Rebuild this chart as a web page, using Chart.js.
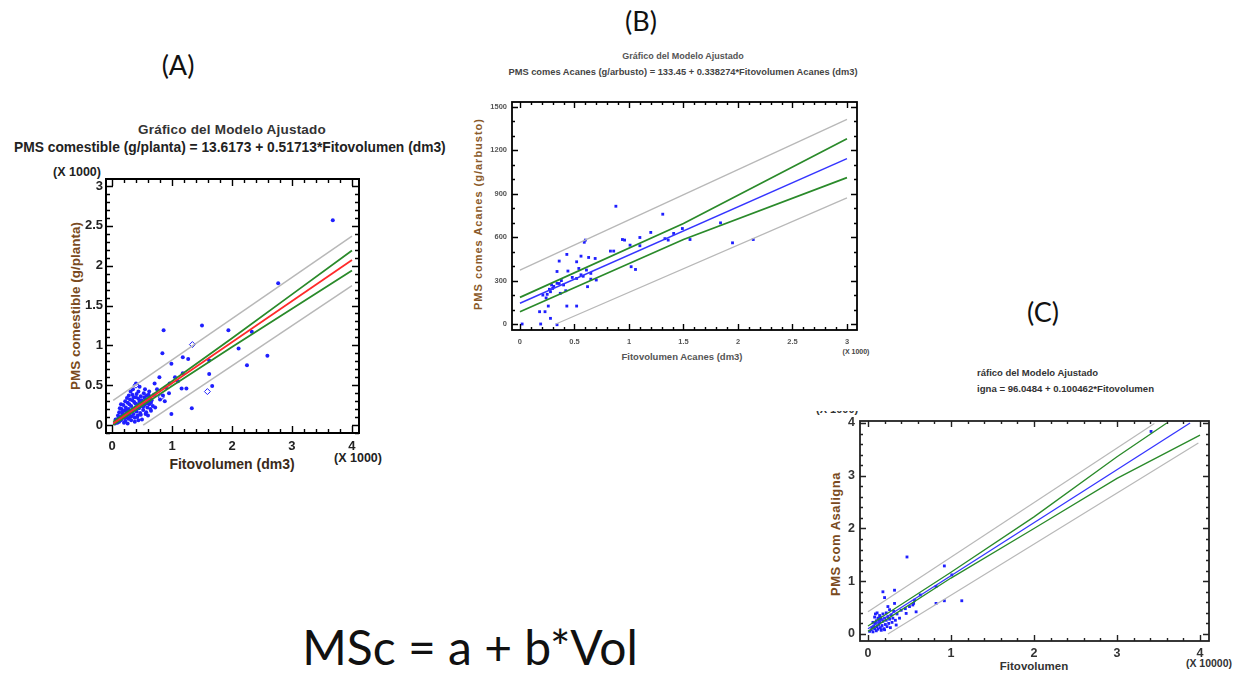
<!DOCTYPE html>
<html><head><meta charset="utf-8">
<script src="https://cdn.jsdelivr.net/npm/chart.js@4.4.1/dist/chart.umd.min.js"></script>
<style>
html,body{margin:0;padding:0;background:#fff;width:1233px;height:674px;overflow:hidden;position:relative;font-family:"Liberation Sans",Arial,sans-serif;}
.t{position:absolute;white-space:nowrap;line-height:1;font-weight:bold;}
.c{transform:translate(-50%,-50%);}
.l{transform:translate(0,-50%);}
.r{transform:translate(-50%,-50%) rotate(-90deg);}
canvas{position:absolute;}
.panel{position:absolute;white-space:nowrap;line-height:1;font-family:Lato,"Open Sans",sans-serif;color:#111;transform:translate(-50%,-50%);}
.clipA{position:absolute;left:0;top:138px;width:446px;height:20px;overflow:hidden;}
.clipC{position:absolute;left:812px;top:411px;width:48px;height:5px;overflow:hidden;}
</style></head><body>

<div class="panel" style="left:178px;top:64px;font-size:27px;">(A)</div>
<div class="panel" style="left:641px;top:20px;font-size:27px;">(B)</div>
<div class="panel" style="left:1043px;top:311px;font-size:27px;">(C)</div>
<div class="panel" style="left:470px;top:647px;font-size:48px;">MSc = a + b*Vol</div>

<!-- Chart A texts -->
<div class="t c" style="left:232px;top:130px;font-size:13.5px;color:#333;letter-spacing:0.2px;">Gráfico del Modelo Ajustado</div>
<div class="clipA"><div class="t" style="left:14px;top:3px;font-size:13.8px;color:#222;">PMS comestible (g/planta) = 13.6173 + 0.51713*Fitovolumen (dm3)</div></div>
<div class="t c" style="left:77px;top:172px;font-size:12.5px;color:#222;">(X 1000)</div>
<div class="t r" style="left:76px;top:306px;font-size:13.5px;color:#7a4a20;">PMS comestible (g/planta)</div>
<div class="t c" style="left:232px;top:464px;font-size:14px;color:#3a2a1a;">Fitovolumen (dm3)</div>
<div class="t c" style="left:358px;top:458px;font-size:12.5px;color:#222;">(X 1000)</div>

<!-- Chart B texts -->
<div class="t c" style="left:683px;top:56px;font-size:9px;color:#555;">Gráfico del Modelo Ajustado</div>
<div class="t c" style="left:683px;top:73px;font-size:9.3px;color:#444;">PMS comes Acanes (g/arbusto) = 133.45 + 0.338274*Fitovolumen Acanes (dm3)</div>
<div class="t r" style="left:478px;top:214px;font-size:11px;color:#8a5a2a;letter-spacing:1px;">PMS comes Acanes (g/arbusto)</div>
<div class="t c" style="left:682px;top:357px;font-size:9.5px;color:#555;">Fitovolumen Acanes (dm3)</div>
<div class="t c" style="left:856px;top:351px;font-size:7px;color:#444;">(X 1000)</div>

<!-- Chart C texts -->
<div class="t l" style="left:977px;top:373px;font-size:9.5px;color:#333;">ráfico del Modelo Ajustado</div>
<div class="t l" style="left:977px;top:389px;font-size:9.6px;color:#333;">igna = 96.0484 + 0.100462*Fitovolumen</div>
<div class="clipC"><div class="t" style="left:4px;top:-7px;font-size:11px;color:#333;">(X 1000)</div></div>
<div class="t r" style="left:835px;top:534px;font-size:13px;color:#7a4a20;letter-spacing:0.5px;">PMS com Asaligna</div>
<div class="t c" style="left:1034px;top:667px;font-size:11.5px;color:#333;">Fitovolumen</div>
<div class="t c" style="left:1209px;top:663px;font-size:10.5px;color:#333;">(X 10000)</div>

<canvas id="cA"></canvas>
<canvas id="cB"></canvas>
<canvas id="cC"></canvas>

<script>
// ---------------- DATA ----------------
// Chart A : PMS comestible vs Fitovolumen (x1000)
const A_xTicks = [0, 1, 2, 3, 4];
const A_yTicks = [0, 0.5, 1, 1.5, 2, 2.5, 3];
const A_pointsX = [3.68,2.77,1.50,0.86,1.94,2.33,0.84,2.11,2.59,2.25,1.18,1.27,0.99,1.62,1.62,1.67,1.33,0.99,0.79,1.18,1.24,1.16,0.96,0.71,0.85,0.40,0.46,1.05,0.90,0.95,1.10,0.75,0.62,0.55,0.88,0.72,0.65,0.60,0.80,
  0.05,0.08,0.10,0.12,0.14,0.15,0.17,0.18,0.20,0.21,0.22,0.23,0.24,0.25,0.26,0.27,0.28,0.29,0.30,0.31,0.32,0.33,0.34,0.35,0.36,0.37,0.38,0.39,0.40,0.41,0.42,0.43,0.44,0.45,0.46,0.47,0.48,0.49,0.50,0.51,0.52,0.53,0.54,0.55,0.56,0.57,0.58,0.59,0.60,0.62,0.63,0.64,0.66,0.68,0.70,
  0.12,0.16,0.19,0.22,0.25,0.28,0.31,0.35,0.20,0.26,0.32,0.38,0.44,0.18,0.24,0.29,0.34,0.39,0.44,0.49,0.54,0.10,0.13,0.06,0.09,0.15,0.21,0.27,0.33,0.36,0.41,0.47,0.52,0.57,0.61,0.65,0.30,0.42,0.48];
const A_pointsY = [2.57,1.78,1.25,1.19,1.19,1.17,0.90,0.96,0.87,0.75,0.85,0.83,0.77,0.81,0.64,0.49,0.21,0.14,0.60,0.65,0.46,0.46,0.52,0.52,0.37,0.52,0.48,0.60,0.47,0.40,0.55,0.45,0.42,0.45,0.30,0.22,0.18,0.12,0.32,
  0.02,0.05,0.08,0.04,0.10,0.06,0.14,0.09,0.12,0.18,0.05,0.22,0.10,0.15,0.28,0.08,0.20,0.13,0.32,0.17,0.24,0.11,0.38,0.20,0.14,0.29,0.09,0.22,0.35,0.17,0.26,0.12,0.42,0.21,0.30,0.15,0.36,0.24,0.07,0.28,0.19,0.40,0.25,0.33,0.14,0.27,0.37,0.22,0.30,0.26,0.34,0.20,0.31,0.24,0.38,
  0.16,0.20,0.25,0.30,0.34,0.37,0.42,0.45,0.03,0.02,0.06,0.04,0.06,0.17,0.19,0.26,0.31,0.27,0.33,0.31,0.35,0.12,0.21,0.07,0.03,0.26,0.09,0.14,0.18,0.35,0.39,0.28,0.23,0.16,0.38,0.28,0.10,0.10,0.13];
const A_openX = [1.34, 1.59, 0.40, 0.82];
const A_openY = [1.01, 0.42, 0.50, 0.35];
const A_fitX = [0.02, 4];            const A_fitY = [0.02, 2.07];
const A_confUpX = [0.02, 1, 2, 3, 4]; const A_confUpY = [0.04, 0.55, 1.09, 1.64, 2.19];
const A_confLoX = [0.02, 1, 2, 3, 4]; const A_confLoY = [0.00, 0.49, 0.98, 1.46, 1.94];
const A_predUpX = [0.02, 4];          const A_predUpY = [0.31, 2.37];
const A_predLoX = [0.52, 4];          const A_predLoY = [0.0, 1.75];

// Chart B : PMS comes Acanes (g/arbusto) vs Fitovolumen Acanes (x1000 dm3)
const B_xTicks = [0, 0.5, 1, 1.5, 2, 2.5, 3];
const B_yTicks = [0, 300, 600, 900, 1200, 1500];
const B_pointsX = [0.88,1.31,1.20,1.10,0.94,0.96,1.01,1.10,0.83,0.86,0.60,0.59,0.43,0.56,0.52,0.63,0.69,0.36,0.34,0.44,0.54,0.61,0.65,1.02,1.06,0.62,0.52,0.48,0.70,0.37,0.30,0.28,0.25,0.21,0.34,0.26,0.43,0.52,0.18,0.23,0.28,0.19,0.34,0.02,1.41,1.36,1.49,1.56,1.84,1.95,2.14,1.33,0.40,0.31,0.27,0.38,0.58,0.65,0.56,0.24,0.36,0.42,0.29];
const B_pointsY = [814,759,633,598,584,580,545,541,504,504,580,565,481,469,430,460,453,435,363,366,384,373,350,396,377,258,315,322,304,212,246,223,205,200,281,124,124,124,85,85,39,0,-5,0,626,580,660,584,699,561,584,590,270,260,240,300,330,310,340,180,280,230,270];
const B_fitX = [0, 3];            const B_fitY = [143, 1143];
const B_confUpX = [0, 1.5, 3];    const B_confUpY = [184, 695, 1281];
const B_confLoX = [0, 1.5, 3];    const B_confLoY = [85, 584, 1012];
const B_predUpX = [0, 3];         const B_predUpY = [373, 1415];
const B_predLoX = [0.33, 3];      const B_predLoY = [0, 872];

// Chart C : PMS com Asaligna (x1000) vs Fitovolumen (x10000)
const C_xTicks = [0, 1, 2, 3, 4];
const C_yTicks = [0, 1, 2, 3, 4];
const C_pointsX = [3.41,0.47,0.92,1.01,0.82,1.13,0.92,0.82,0.32,0.18,0.20,0.63,0.54,0.56,0.32,0.24,0.46,0.38,0.34,0.58,0.55,0.50,0.45,0.40,
  0.02,0.04,0.05,0.06,0.07,0.08,0.09,0.10,0.10,0.11,0.12,0.12,0.13,0.14,0.14,0.15,0.16,0.17,0.18,0.18,0.19,0.20,0.21,0.22,0.23,0.24,0.25,0.26,0.27,0.28,0.08,0.09,0.11,0.13,0.15,0.06,0.16,0.20,0.22,0.30,0.33,0.35,0.29,0.31,0.26];
const C_pointsY = [3.84,1.46,1.29,1.12,0.90,0.63,0.63,0.58,0.83,0.80,0.69,0.74,0.55,0.64,0.58,0.52,0.39,0.30,0.17,0.42,0.58,0.52,0.48,0.45,
  0.05,0.08,0.12,0.04,0.15,0.10,0.20,0.06,0.25,0.14,0.30,0.09,0.18,0.35,0.22,0.12,0.28,0.16,0.38,0.24,0.10,0.30,0.18,0.26,0.14,0.33,0.20,0.28,0.12,0.36,0.32,0.38,0.40,0.27,0.32,0.22,0.07,0.08,0.40,0.30,0.26,0.38,0.22,0.43,0.46];
const C_fitX = [0, 3.88];                    const C_fitY = [0.10, 4.00];
const C_confUpX = [0, 1, 2, 3, 3.6];         const C_confUpY = [0.15, 1.17, 2.22, 3.36, 4.00];
const C_confLoX = [0, 1, 2, 3, 4];           const C_confLoY = [0.05, 1.06, 2.00, 2.95, 3.77];
const C_predUpX = [0, 3.45];                 const C_predUpY = [0.42, 3.99];
const C_predLoX = [0.24, 3.98];              const C_predLoY = [0.0, 3.62];

// ---------------- RENDER ----------------
const zip = (xs, ys) => xs.map((x, i) => ({x, y: ys[i]}));

const boxTicks = {
  id: 'boxTicks',
  afterDatasetsDraw(chart, args, o) {
    const {ctx, chartArea: a, scales: {x, y}} = chart;
    ctx.save();
    ctx.strokeStyle = o.color;
    ctx.lineWidth = 1.4;
    const axis = (scale, step, n, horiz) => {
      const ms = step / n;
      const k0 = Math.ceil(scale.min / ms - 1e-9), k1 = Math.floor(scale.max / ms + 1e-9);
      for (let k = k0; k <= k1; k++) {
        const v = k * ms;
        const major = (k % n) === 0;
        const len = major ? o.major : o.minor;
        const p = Math.round(scale.getPixelForValue(v)) + 0.5;
        ctx.beginPath();
        if (horiz) {
          ctx.moveTo(p, a.bottom); ctx.lineTo(p, a.bottom - len);
          ctx.moveTo(p, a.top); ctx.lineTo(p, a.top + len);
        } else {
          ctx.moveTo(a.left, p); ctx.lineTo(a.left + len, p);
          ctx.moveTo(a.right, p); ctx.lineTo(a.right - len, p);
        }
        ctx.stroke();
      }
    };
    axis(x, o.xStep, o.xMinor, true);
    axis(y, o.yStep, o.yMinor, false);
    ctx.lineWidth = o.lw;
    ctx.strokeRect(a.left, a.top, a.right - a.left, a.bottom - a.top);
    ctx.restore();
  }
};

function lineDs(xs, ys, color, w) {
  return {data: zip(xs, ys), showLine: true, borderColor: color, borderWidth: w, pointRadius: 0, fill: false, tension: 0};
}

function makeChart(id, cfg) {
  const yw = 40, xh = 30, pt = 10, pr = 22;
  const cv = document.getElementById(id);
  const W = yw + (cfg.box.R - cfg.box.L) + pr;
  const H = pt + (cfg.box.B - cfg.box.T) + xh;
  cv.width = W; cv.height = H;
  cv.style.left = (cfg.box.L - yw) + 'px';
  cv.style.top = (cfg.box.T - pt) + 'px';
  cv.style.width = W + 'px'; cv.style.height = H + 'px';
  const tickFont = cfg.tickFont;
  return new Chart(cv, {
    type: 'scatter',
    data: {datasets: cfg.datasets},
    options: {
      responsive: false, animation: false, devicePixelRatio: 1,
      layout: {padding: {top: pt, right: pr, left: 0, bottom: 0}},
      plugins: {legend: {display: false}, tooltip: {enabled: false}, boxTicks: cfg.ticks},
      scales: {
        x: {
          type: 'linear', min: cfg.xMin, max: cfg.xMax,
          grid: {display: false, drawTicks: false}, border: {display: false},
          afterBuildTicks: s => { s.ticks = cfg.xTicks.map(v => ({value: v})); },
          afterFit: s => { s.height = xh; s.paddingLeft = 0; s.paddingRight = 0; },
          ticks: {padding: cfg.xPad, font: tickFont, color: cfg.tickColor, maxRotation: 0, autoSkip: false, callback: v => String(v)}
        },
        y: {
          type: 'linear', min: cfg.yMin, max: cfg.yMax,
          grid: {display: false, drawTicks: false}, border: {display: false},
          afterBuildTicks: s => { s.ticks = cfg.yTicks.map(v => ({value: v})); },
          afterFit: s => { s.width = yw; s.paddingTop = 0; s.paddingBottom = 0; },
          ticks: {padding: cfg.yPad, font: tickFont, color: cfg.tickColor, autoSkip: false, callback: v => String(v)}
        }
      }
    },
    plugins: [boxTicks]
  });
}

const GRAY = '#b8b8b8', GREEN = '#2a8a2a', RED = '#ff2a2a', BLUE = '#3535ff', PT = '#1f1fff';
const fam = '"Liberation Sans", Arial, sans-serif';

makeChart('cA', {
  box: {L: 106, R: 359, T: 179, B: 433},
  xMin: -0.1, xMax: 4.117, yMin: -0.1, yMax: 3.088,
  xTicks: A_xTicks, yTicks: A_yTicks,
  xPad: 6, yPad: 3, tickColor: '#222', tickFont: {family: fam, size: 13, weight: 'bold'},
  ticks: {color: '#000', lw: 2, major: 7, minor: 4, xStep: 1, xMinor: 5, yStep: 0.5, yMinor: 5},
  datasets: [
    lineDs(A_fitX, A_fitY, RED, 1.8),
    lineDs(A_confUpX, A_confUpY, GREEN, 1.8),
    lineDs(A_confLoX, A_confLoY, GREEN, 1.8),
    lineDs(A_predUpX, A_predUpY, GRAY, 1.5),
    lineDs(A_predLoX, A_predLoY, GRAY, 1.5),
    {data: zip(A_openX, A_openY), pointStyle: 'rectRot', pointRadius: 3, backgroundColor: 'rgba(0,0,0,0)', borderColor: PT, borderWidth: 1},
    {data: zip(A_pointsX, A_pointsY), pointStyle: 'circle', pointRadius: 2, backgroundColor: PT, borderColor: PT, borderWidth: 0}
  ]
});

makeChart('cB', {
  box: {L: 512, R: 857, T: 102, B: 330},
  xMin: -0.073, xMax: 3.092, yMin: -41.5, yMax: 1534.6,
  xTicks: B_xTicks, yTicks: B_yTicks,
  xPad: 7, yPad: 5, tickColor: '#555', tickFont: {family: fam, size: 7.5, weight: 'bold'},
  ticks: {color: '#000', lw: 1.8, major: 6, minor: 3, xStep: 0.5, xMinor: 5, yStep: 300, yMinor: 3},
  datasets: [
    lineDs(B_fitX, B_fitY, BLUE, 1.5),
    lineDs(B_confUpX, B_confUpY, GREEN, 1.7),
    lineDs(B_confLoX, B_confLoY, GREEN, 1.7),
    lineDs(B_predUpX, B_predUpY, GRAY, 1.3),
    lineDs(B_predLoX, B_predLoY, GRAY, 1.3),
    {data: zip(B_pointsX, B_pointsY), pointStyle: 'rect', pointRadius: 2, backgroundColor: PT, borderColor: PT, borderWidth: 0}
  ]
});

makeChart('cC', {
  box: {L: 860, R: 1209, T: 421, B: 641},
  xMin: -0.096, xMax: 4.108, yMin: -0.133, yMax: 4.038,
  xTicks: C_xTicks, yTicks: C_yTicks,
  xPad: 5, yPad: 5, tickColor: '#333', tickFont: {family: fam, size: 12.5, weight: 'bold'},
  ticks: {color: '#222', lw: 1.8, major: 6, minor: 3, xStep: 1, xMinor: 5, yStep: 1, yMinor: 5},
  datasets: [
    lineDs(C_fitX, C_fitY, BLUE, 1.3),
    lineDs(C_confUpX, C_confUpY, GREEN, 1.3),
    lineDs(C_confLoX, C_confLoY, GREEN, 1.3),
    lineDs(C_predUpX, C_predUpY, GRAY, 1.2),
    lineDs(C_predLoX, C_predLoY, GRAY, 1.2),
    {data: zip(C_pointsX, C_pointsY), pointStyle: 'rect', pointRadius: 2, backgroundColor: PT, borderColor: PT, borderWidth: 0}
  ]
});
</script>
</body></html>
